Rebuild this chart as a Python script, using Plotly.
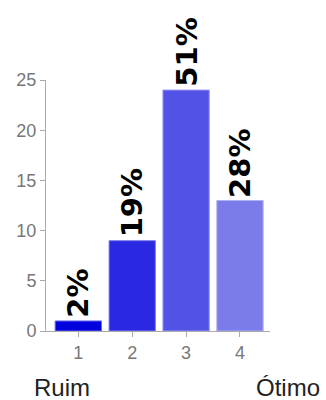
import plotly.graph_objects as go

categories = [1, 2, 3, 4]
counts = [1, 9, 24, 13]
bar_colors = ["#0202dc", "#2a28e0", "#5252e6", "#7b7bea"]
edge_colors = ["#6a6aee", "#8080f0", "#9a9af2", "#b0b0f4"]
y_ticks = [0, 5, 10, 15, 20, 25]
end_labels = ["Ruim", "Ótimo"]

total = sum(counts)
pct_labels = [f"{round(c / total * 100)}%" for c in counts]

fig = go.Figure()
fig.add_trace(go.Bar(
    x=categories,
    y=counts,
    width=0.86,
    marker=dict(color=bar_colors, line=dict(color=edge_colors, width=1)),
    cliponaxis=False,
    hoverinfo="skip",
))

annotations = []
for cat, cnt, lab in zip(categories, counts, pct_labels):
    annotations.append(dict(
        text=lab, x=cat, y=cnt, xref="x", yref="y",
        textangle=-90, xanchor="center", yanchor="bottom",
        showarrow=False, yshift=2, borderpad=0,
        font=dict(family="DejaVu Sans, sans-serif", size=29, color="#000000", weight="bold"),
    ))
annotations.append(dict(text=end_labels[0], xref="paper", yref="paper", x=-0.0625, y=-0.225,
                        xanchor="left", yanchor="middle", showarrow=False,
                        font=dict(size=24, color="#222222")))
annotations.append(dict(text=end_labels[1], xref="paper", yref="paper", x=1.232, y=-0.225,
                        xanchor="right", yanchor="middle", showarrow=False,
                        font=dict(size=24, color="#222222")))

fig.update_layout(
    width=326, height=400,
    margin=dict(l=46, r=56, t=80, b=69),
    paper_bgcolor="white", plot_bgcolor="white",
    showlegend=False,
    font=dict(family="Liberation Sans, Arial, sans-serif"),
    xaxis=dict(
        range=[0.40, 4.557], tickmode="array", tickvals=categories,
        ticktext=[str(c) for c in categories],
        showgrid=False, zeroline=False, showline=True, linecolor="#aaaaaa", linewidth=1,
        ticks="outside", ticklen=5, tickcolor="#aaaaaa",
        tickfont=dict(size=18, color="#777777"), fixedrange=True,
    ),
    yaxis=dict(
        range=[0, 25], tickmode="array", tickvals=y_ticks,
        showgrid=False, zeroline=False, showline=True, linecolor="#aaaaaa", linewidth=1,
        ticks="outside", ticklen=5, tickcolor="#aaaaaa",
        tickfont=dict(size=18, color="#777777"), fixedrange=True,
    ),
    annotations=annotations,
)

fig.write_html("out.html")
